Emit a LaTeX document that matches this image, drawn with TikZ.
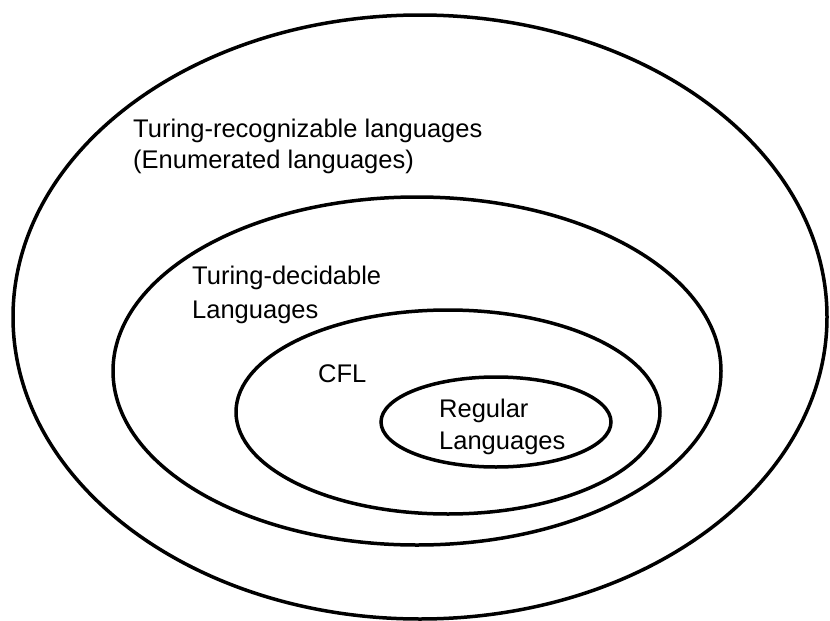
\documentclass[tikz,border=0pt]{standalone}
\usepackage{fontspec}
\setmainfont{Liberation Sans}
\begin{document}
\begin{tikzpicture}[x=1pt,y=-1pt,
  ring/.style={line width=3.5pt},
  lbl/.style={align=left, anchor=base west, inner sep=0pt}]
\useasboundingbox (0,0) rectangle (830,621);
\draw[ring] (420,317) ellipse [x radius=407, y radius=302];
\draw[ring] (417,371) ellipse [x radius=304, y radius=174];
\draw[ring] (448,412) ellipse [x radius=212, y radius=102];
\draw[ring] (496,422) ellipse [x radius=115, y radius=45];
\node[lbl, font=\fontsize{25.5}{31}\selectfont] (tr) at (133,168) {Turing-recognizable languages\\(Enumerated languages)};
\node[lbl, font=\fontsize{25.5}{34}\selectfont] (td) at (192,318) {Turing-decidable\\Languages};
\node[lbl, font=\fontsize{25.5}{32}\selectfont] (cfl) at (318,382) {CFL};
\node[lbl, font=\fontsize{25.5}{32}\selectfont] (reg) at (439,449) {Regular\\Languages};
\end{tikzpicture}
\end{document}
